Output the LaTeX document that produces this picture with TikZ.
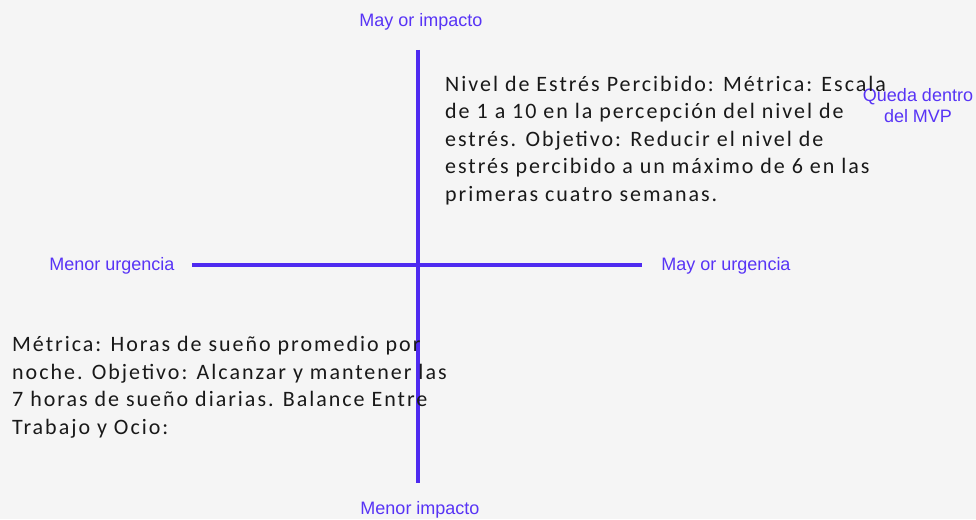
\documentclass[tikz,border=0pt]{standalone}
\usepackage{fontspec}
\setmainfont{Liberation Sans}
\newfontfamily\bodyfont[LetterSpace=9]{Carlito}
\definecolor{axisblue}{RGB}{78,42,240}
\definecolor{labelblue}{RGB}{88,52,245}
\definecolor{bg}{RGB}{245,245,245}
\definecolor{bodytext}{RGB}{25,25,25}
\begin{document}
\begin{tikzpicture}[x=1pt,y=-1pt,
  axisline/.style={draw=axisblue,line width=3.5pt},
  axislabel/.style={text=labelblue,font=\fontsize{18}{21}\selectfont,inner sep=0pt,align=center},
  bodytxt/.style={text=bodytext,font={\bodyfont\fontsize{22}{27.5}\selectfont},inner sep=0pt,align=left,anchor=base west}]
\fill[bg] (0,0) rectangle (976,519);
\useasboundingbox (0,0) rectangle (976,519);
\coordinate (vtop) at (418,50);
\coordinate (vbot) at (418,483);
\coordinate (hleft) at (192,265);
\coordinate (hright) at (642,265);
\draw[axisline] (vtop) -- (vbot);
\draw[axisline] (hleft) -- (hright);
\node[axislabel] (maxi) at (421,22) {May or impacto};
\node[axislabel] (mini) at (420,510) {Menor impacto};
\node[axislabel] (minu) at (112,266) {Menor urgencia};
\node[axislabel] (maxu) at (726,266) {May or urgencia};
\node[axislabel] (mvp) at (918,106) {Queda dentro\\del MVP};
\node[bodytxt] (q1) at (445,201) {Nivel de Estrés Percibido: Métrica: Escala\\de 1 a 10 en la percepción del nivel de\\estrés. Objetivo: Reducir el nivel de\\estrés percibido a un máximo de 6 en las\\primeras cuatro semanas.};
\node[bodytxt] (q3) at (12,434) {Métrica: Horas de sueño promedio por\\noche. Objetivo: Alcanzar y mantener las\\7 horas de sueño diarias. Balance Entre\\Trabajo y Ocio:};
\end{tikzpicture}
\end{document}
